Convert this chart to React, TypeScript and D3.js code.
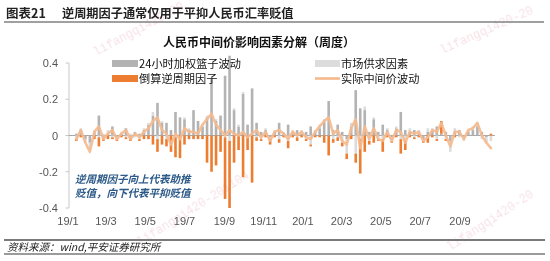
import React from "react";
import * as d3 from "d3";

// weekly data, first week 2019-01-14
const firstWeek = "2019-01-14";
const basket = [
  0.01, 0.03, -0.02, -0.04, 0.02, 0.11, -0.02, 0.01, 0.05, -0.01,
  0.01, 0.04, -0.01, 0.02, 0.01, 0.03, 0.06, 0.11, 0.18, 0.07,
  0.07, 0.03, 0.13, 0.10, 0.09, 0.03, 0.14, 0.08, 0.05, 0.10,
  0.31, 0.08, 0.11, 0.33, 0.44, 0.14, 0.05, 0.23, 0.06, 0.26,
  0.07, 0.02, 0.03, -0.01, 0.02, 0.07, 0.01, 0.06, 0.02, 0.03,
  0.01, 0.02, 0.05, 0.02, 0.04, 0.08, 0.19, 0.03, 0.06, 0.02,
  -0.02, 0.05, 0.25, 0.15, 0.14, 0.02, 0.09, 0.02, 0.06, 0.03,
  -0.01, 0.04, 0.13, 0.03, 0.02, 0.03, 0.01, -0.02, 0.02, 0.03,
  0.05, 0.01, 0.02, -0.03, 0.02, 0.03, -0.01, 0.02, 0.03, 0.05,
  0.02, -0.01, 0.0,
];
const market = [
  -0.02, 0.01, -0.02, -0.04, 0.01, -0.01, 0.01, 0.02, -0.01, -0.01,
  0.01, -0.01, 0.01, -0.01, -0.02, 0.01, 0.01, 0.02, -0.02, 0.01,
  -0.02, 0.0, -0.01, 0.0, 0.01, 0.01, 0.0, 0.0, 0.01, 0.01,
  0.0, 0.01, 0.0, -0.01, -0.03, 0.01, 0.01, 0.01, 0.0, 0.0,
  -0.01, -0.02, 0.01, -0.01, 0.01, -0.02, 0.01, -0.03, 0.01, -0.01,
  0.02, -0.02, -0.05, 0.01, 0.02, 0.01, 0.0, -0.02, -0.01, -0.04,
  -0.08, 0.02, -0.1, -0.02, 0.02, -0.03, 0.01, -0.02, -0.02, 0.01,
  -0.02, 0.01, -0.02, -0.03, 0.02, -0.01, 0.02, -0.01, 0.02, 0.01,
  -0.02, 0.0, -0.02, -0.06, 0.02, -0.01, -0.02, 0.01, 0.02, 0.02,
  -0.02, -0.03, -0.03,
];
const ccf = [
  -0.01, -0.01, 0.0, 0.0, -0.02, -0.05, -0.01, -0.02, -0.01, -0.01,
  -0.01, -0.01, -0.02, 0.0, -0.01, -0.02, -0.02, -0.05, -0.07, -0.05,
  -0.04, -0.09, -0.11, -0.125, -0.05, -0.02, -0.02, -0.02, -0.02, -0.15,
  -0.2, -0.165, -0.09, -0.34, -0.37, -0.15, -0.08, -0.23, -0.08, -0.26,
  -0.02, -0.01, -0.01, -0.03, -0.01, -0.02, -0.01, -0.04, -0.01, -0.02,
  -0.01, -0.01, -0.01, -0.01, -0.01, -0.04, -0.11, -0.02, -0.02, -0.02,
  -0.03, -0.02, -0.05, -0.19, -0.09, -0.02, -0.04, -0.01, -0.07, -0.01,
  -0.01, -0.01, -0.08, -0.05, -0.01, -0.01, -0.01, -0.01, -0.04, -0.01,
  -0.01, 0.07, -0.01, 0.0, -0.01, 0.0, 0.0, 0.0, 0.0, 0.0,
  0.0, 0.0, 0.01,
];
const actual = [
  -0.02, 0.03, -0.04, -0.09, 0.02, 0.05, -0.02, 0.01, 0.03, -0.02,
  0.01, 0.03, -0.02, 0.01, -0.01, 0.02, 0.04, 0.08, 0.1, 0.03,
  0.01, -0.05, 0.01, -0.02, 0.04, 0.02, 0.02, 0.01, 0.06, 0.09,
  0.12, 0.06, 0.03, 0.0, 0.03, 0.01, 0.0, 0.02, -0.01, 0.01,
  0.03, -0.01, 0.02, -0.03, 0.02, 0.03, 0.01, -0.02, 0.02, 0.0,
  0.02, -0.01, -0.02, 0.02, 0.05, 0.08, 0.1, 0.01, 0.03, -0.03,
  -0.05, 0.04, 0.09, -0.07, 0.05, -0.02, 0.04, -0.02, -0.03, 0.02,
  -0.03, 0.03, 0.02, -0.04, 0.02, 0.01, 0.02, -0.03, -0.01, 0.03,
  0.02, 0.07, 0.0, -0.06, 0.02, 0.02, -0.02, 0.03, 0.04, 0.07,
  0.0, -0.04, -0.07,
];
const yTicks = [0.4, 0.2, 0, -0.2, -0.4];
const yTickLabels = ["0.4", "0.2", "0", "-0.2", "-0.4"];
const xTickDates = [
  "2019-01-01", "2019-03-01", "2019-05-01", "2019-07-01", "2019-09-01", "2019-11-01",
  "2020-01-01", "2020-03-01", "2020-05-01", "2020-07-01", "2020-09-01",
];
const xTickLabels = ["19/1", "19/3", "19/5", "19/7", "19/9", "19/11", "20/1", "20/3", "20/5", "20/7", "20/9"];
const seriesNames = ["24小时加权篮子波动", "市场供求因素", "倒算逆周期因子", "实际中间价波动"];
const seriesColors = ["#b3b3b3", "#dcdcdc", "#ed7d31", "#f5b98e"];

const parse = (s: string) => {
  const [a, b, c] = s.split("-").map(Number);
  return new Date(a, b - 1, c);
};

const CJK = "'Noto Sans CJK SC', 'Noto Sans', sans-serif";
const NUM = "'Liberation Sans', Arial, sans-serif";
const MARK = "'Liberation Mono', 'DejaVu Sans Mono', monospace";

export default function App() {
  const W = 550;
  const H = 261;
  const x = d3.scaleTime().domain([parse(xTickDates[0]), parse(xTickDates[xTickDates.length - 1])]).range([68, 460]);
  const y = d3.scaleLinear().domain([-0.4, 0.4]).range([208, 63]);
  const start = parse(firstWeek);
  const dates = basket.map((_, i) => d3.timeDay.offset(start, 7 * i));
  const barW = 2.6;

  const series = [basket, market, ccf];
  const rects: React.ReactNode[] = [];
  dates.forEach((d, i) => {
    let pos = 0;
    let neg = 0;
    series.forEach((s, k) => {
      const v = s[i];
      if (v === 0) return;
      let y0: number, y1: number;
      if (v > 0) {
        y0 = y(pos + v);
        y1 = y(pos);
        pos += v;
      } else {
        y0 = y(neg);
        y1 = y(neg + v);
        neg += v;
      }
      rects.push(
        <rect key={`${i}-${k}`} x={x(d) - barW / 2} y={y0} width={barW} height={Math.max(0.5, y1 - y0)} fill={seriesColors[k]} />
      );
    });
  });

  const line = d3
    .line<number>()
    .x((_, i) => x(dates[i]))
    .y((v) => y(v))
    .curve(d3.curveLinear)(actual) as string;

  const xEnd = x(dates[dates.length - 1]) + 4;

  return (
    <div style={{ position: "absolute", left: 0, top: 0 }}>
      <svg width={W} height={H} viewBox={`0 0 ${W} ${H}`} style={{ display: "block", background: "#fff" }}>
        {/* watermarks (faint, behind) */}
        <g fontFamily={MARK} fontSize={12} fill="#eab3c1" opacity={0.4}>
          <text transform="translate(442,54) rotate(-24)">lifangqi420-20</text>
          <text transform="translate(140,246) rotate(-32)">lifangqi420-201104</text>
          <text transform="translate(450,251) rotate(-33)">lifangqi420-20</text>
          <text transform="translate(96,56) rotate(-28)">lifangqi420-20</text>
        </g>

        {/* header */}
        <text x={6} y={18} fontFamily={CJK} fontSize={12.5} fontWeight="bold" fill="#222">图表21</text>
        <text x={62} y={18} fontFamily={CJK} fontSize={12.2} fontWeight="bold" fill="#222">逆周期因子通常仅用于平抑人民币汇率贬值</text>
        <line x1={4} x2={544} y1={22} y2={22} stroke="#808080" strokeWidth={1.6} />

        {/* chart title */}
        <text x={259} y={47} textAnchor="middle" fontFamily={CJK} fontSize={12} fontWeight="bold" fill="#111">人民币中间价影响因素分解（周度）</text>

        {/* y axis */}
        <line x1={69} x2={69} y1={y(0.4)} y2={y(-0.4)} stroke="#c8c8c8" strokeWidth={1} />
        {yTicks.map((t, i) => (
          <g key={t}>
            <line x1={65.5} x2={69} y1={y(t)} y2={y(t)} stroke="#c8c8c8" />
            <text x={58} y={y(t) + 4} textAnchor="end" fontFamily={NUM} fontSize={11} fill="#555">{yTickLabels[i]}</text>
          </g>
        ))}

        {/* zero line */}
        <line x1={69} x2={xEnd} y1={y(0)} y2={y(0)} stroke="#a6a6a6" strokeWidth={1} />

        {/* bars */}
        {rects}

        {/* actual line */}
        <path d={line} fill="none" stroke={seriesColors[3]} strokeWidth={2.6} strokeLinejoin="round" strokeLinecap="round" opacity={0.9} />

        {/* x labels */}
        {xTickDates.map((d, i) => (
          <text key={d} x={x(parse(d))} y={225} textAnchor="middle" fontFamily={NUM} fontSize={11} fill="#555">{xTickLabels[i]}</text>
        ))}

        {/* legend */}
        <rect x={112} y={60} width={26} height={7} fill={seriesColors[0]} />
        <text x={139} y={68} fontFamily={CJK} fontSize={11.2} fill="#111">{seriesNames[0]}</text>
        <rect x={315} y={60} width={25} height={7} fill={seriesColors[1]} />
        <text x={341} y={68} fontFamily={CJK} fontSize={11.2} fill="#111">{seriesNames[1]}</text>
        <rect x={112} y={75} width={26} height={7} fill={seriesColors[2]} />
        <text x={139} y={83} fontFamily={CJK} fontSize={11.2} fill="#111">{seriesNames[2]}</text>
        <line x1={315} x2={340} y1={78.5} y2={78.5} stroke={seriesColors[3]} strokeWidth={2.6} />
        <text x={341} y={83} fontFamily={CJK} fontSize={11.2} fill="#111">{seriesNames[3]}</text>

        {/* annotation */}
        <text x={75} y={183} fontFamily={CJK} fontSize={10.5} fontStyle="italic" fontWeight="bold" fill="#2c5a88">逆周期因子向上代表助推</text>
        <text x={75} y={197} fontFamily={CJK} fontSize={10.5} fontStyle="italic" fontWeight="bold" fill="#2c5a88">贬值，向下代表平抑贬值</text>

        {/* footer */}
        <line x1={4} x2={545} y1={240} y2={240} stroke="#7a7a7a" strokeWidth={1.8} />
        <text x={7} y={251} fontFamily={CJK} fontSize={10.5} fontStyle="italic" fill="#222">资料来源：wind,平安证券研究所</text>
        <line x1={4} x2={545} y1={254} y2={254} stroke="#7a7a7a" strokeWidth={1.4} />
      </svg>
    </div>
  );
}
